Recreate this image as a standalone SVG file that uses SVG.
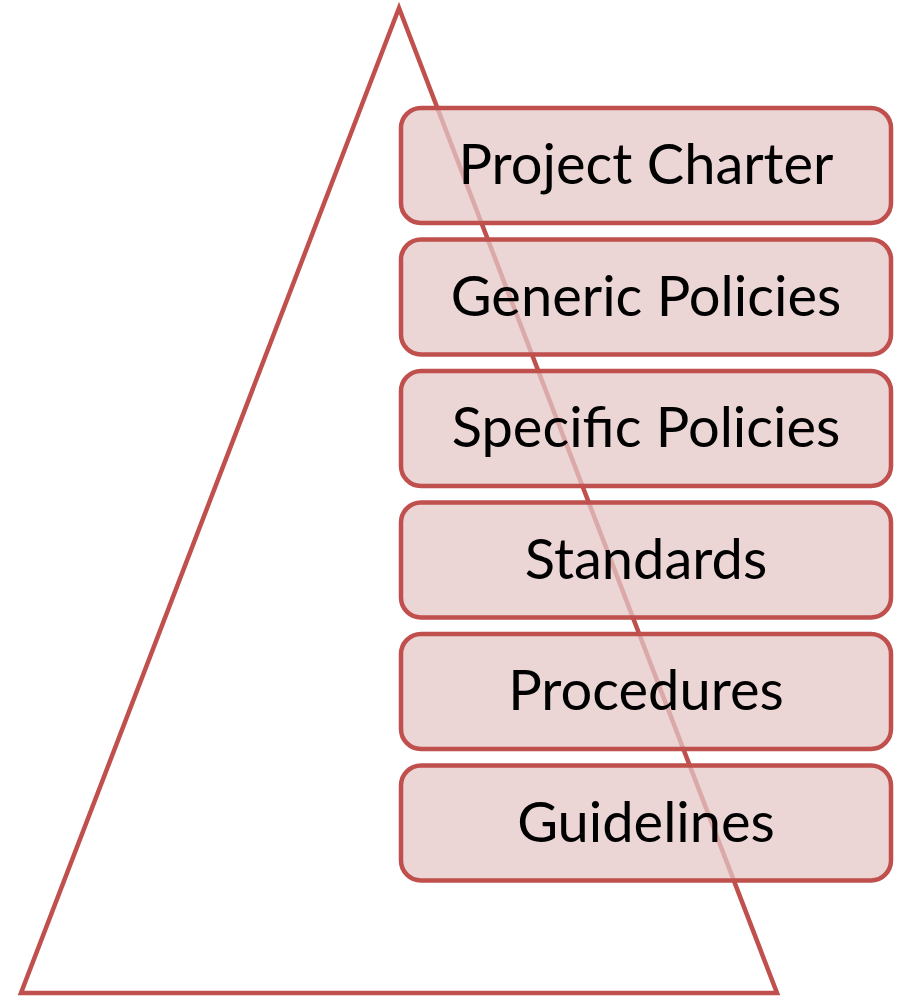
<svg xmlns="http://www.w3.org/2000/svg" width="899" height="996" viewBox="0 0 899 996">
<style>
.tri{fill:none;stroke:#c0504d;stroke-width:4.5;stroke-linejoin:miter}
.box{fill:#e4c7c7;fill-opacity:0.75;stroke:#c0504d;stroke-width:4.5}
.lbl{font-family:Lato,"Open Sans",sans-serif;font-size:56px;fill:#000;text-anchor:middle}
</style>
<rect width="899" height="996" fill="#fff"/>
<g id="connectors">
<polygon id="triangle" class="tri" points="399,8 21,993 777,993"/>
</g>
<g id="n1"><rect class="box" x="401" y="108" width="490" height="115" rx="20"/><text class="lbl" x="646" y="184">Project Charter</text></g>
<g id="n2"><rect class="box" x="401" y="239.5" width="490" height="115" rx="20"/><text class="lbl" x="646" y="315.5">Generic Policies</text></g>
<g id="n3"><rect class="box" x="401" y="371" width="490" height="115" rx="20"/><text class="lbl" x="646" y="447">Specific Policies</text></g>
<g id="n4"><rect class="box" x="401" y="502.5" width="490" height="115" rx="20"/><text class="lbl" x="646" y="578.5">Standards</text></g>
<g id="n5"><rect class="box" x="401" y="634" width="490" height="115" rx="20"/><text class="lbl" x="646" y="710">Procedures</text></g>
<g id="n6"><rect class="box" x="401" y="765.5" width="490" height="115" rx="20"/><text class="lbl" x="646" y="841.5">Guidelines</text></g>
</svg>
